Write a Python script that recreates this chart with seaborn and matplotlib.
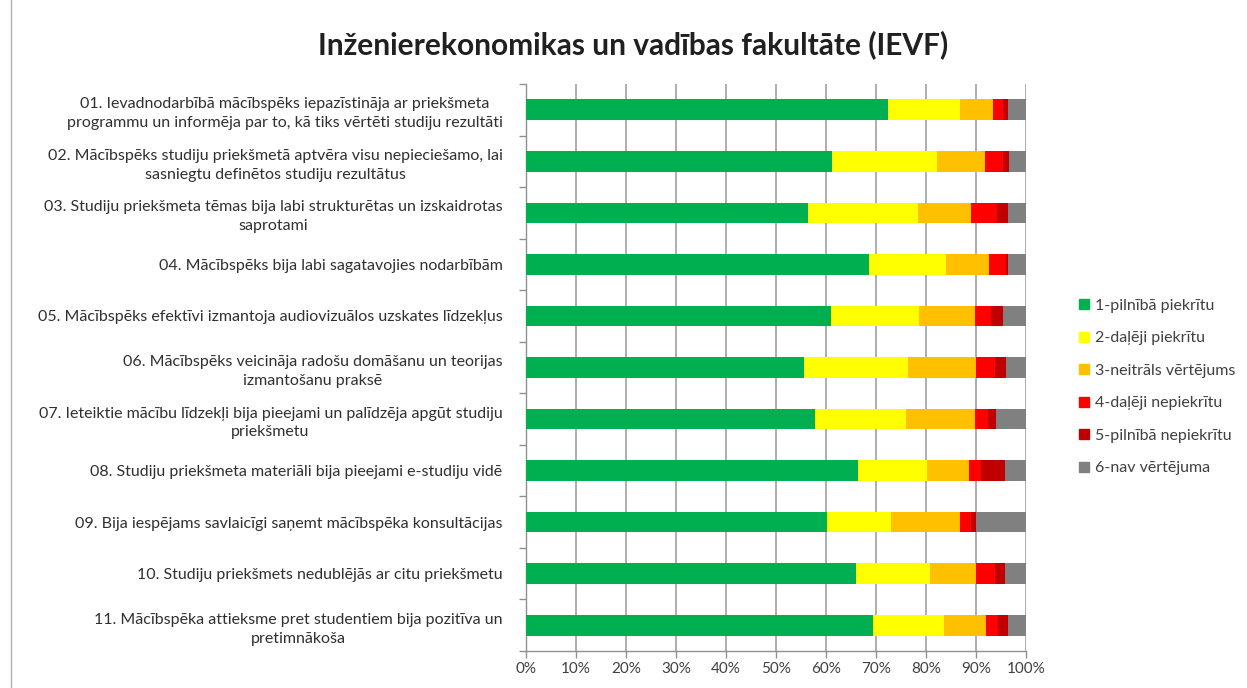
import numpy as np
import pandas as pd
import matplotlib
matplotlib.use("Agg")
import matplotlib.pyplot as plt
from matplotlib.lines import Line2D
import seaborn as sns

title = "Inženierekonomikas un vadības fakultāte (IEVF)"

categories = [
    "01. Ievadnodarbībā mācībspēks iepazīstināja ar priekšmeta\nprogrammu un informēja par to, kā tiks vērtēti studiju rezultāti",
    "02. Mācībspēks studiju priekšmetā aptvēra visu nepieciešamo, lai\nsasniegtu definētos studiju rezultātus",
    "03. Studiju priekšmeta tēmas bija labi strukturētas un izskaidrotas\nsaprotami",
    "04. Mācībspēks bija labi sagatavojies nodarbībām",
    "05. Mācībspēks efektīvi izmantoja audiovizuālos uzskates līdzekļus",
    "06. Mācībspēks veicināja radošu domāšanu un teorijas\nizmantošanu praksē",
    "07. Ieteiktie mācību līdzekļi bija pieejami un palīdzēja apgūt studiju\npriekšmetu",
    "08. Studiju priekšmeta materiāli bija pieejami e-studiju vidē",
    "09. Bija iespējams savlaicīgi saņemt mācībspēka konsultācijas",
    "10. Studiju priekšmets nedublējās ar citu priekšmetu",
    "11. Mācībspēka attieksme pret studentiem bija pozitīva un\npretimnākoša",
]

series_names = ["1-pilnībā piekrītu", "2-daļēji piekrītu", "3-neitrāls vērtējums",
                "4-daļēji nepiekrītu", "5-pilnībā nepiekrītu", "6-nav vērtējuma"]

s1_full_agree = [72.3, 61.2, 56.3, 68.5, 61.0, 55.5, 57.7, 66.3, 60.2, 66.0, 69.3]
s2_partly_agree = [14.5, 20.9, 22.0, 15.5, 17.5, 20.8, 18.2, 13.8, 12.8, 14.8, 14.2]
s3_neutral = [6.5, 9.6, 10.7, 8.5, 11.2, 13.6, 13.8, 8.4, 13.7, 9.2, 8.5]
s4_partly_disagree = [2.0, 3.7, 5.1, 3.5, 3.3, 3.8, 2.6, 2.4, 2.3, 3.7, 2.3]
s5_full_disagree = [1.1, 1.1, 2.3, 0.4, 2.3, 2.3, 1.7, 4.8, 1.0, 2.0, 2.1]
s6_no_rating = [3.6, 3.5, 3.6, 3.6, 4.7, 4.0, 6.0, 4.3, 10.0, 4.3, 3.6]

xticklabels = ["0%", "10%", "20%", "30%", "40%", "50%", "60%", "70%", "80%", "90%", "100%"]

colors = ["#00B050", "#FFFF00", "#FFC000", "#FF0000", "#C00000", "#808080"]

values = [s1_full_agree, s2_partly_agree, s3_neutral, s4_partly_disagree,
          s5_full_disagree, s6_no_rating]

rows = []
for i, cat in enumerate(categories):
    cum = 0.0
    for j, name in enumerate(series_names):
        cum += values[j][i]
        rows.append({"category": cat, "series": name, "value": values[j][i], "cum": cum})
df = pd.DataFrame(rows)
tot = df.groupby("category")["cum"].transform("max")
df["cum"] = df["cum"] / tot * 100

sns.set_theme(style="white")
plt.rcParams["font.family"] = ["Lato", "DejaVu Sans"]

fig = plt.figure(figsize=(12.47, 6.88), dpi=100)
ax = fig.add_axes([526 / 1247, 1 - 651 / 688, 500 / 1247, (651 - 84) / 688])

for j in range(len(series_names) - 1, -1, -1):
    sub = df[df["series"] == series_names[j]]
    sns.barplot(data=sub, x="cum", y="category", order=categories, orient="h",
                color=colors[j], saturation=1, width=0.4, ax=ax, zorder=3,
                edgecolor="none", linewidth=0)

ax.set_xlim(0, 100)
ax.set_ylim(len(categories) - 0.5, -0.5)
ax.set_xticks(np.arange(0, 101, 10))
ax.set_xticklabels(xticklabels, fontsize=11, color="#404040")
ax.set_xlabel("")
ax.set_ylabel("")
ax.set_yticks(range(len(categories)))
ax.set_yticklabels(categories, fontsize=11.5, color="#303030",
                   multialignment="center", linespacing=1.45)
ax.set_yticks(np.arange(-0.5, len(categories) + 0.5, 1), minor=True)
ax.tick_params(axis="y", which="major", length=0, pad=17)
ax.tick_params(axis="y", which="minor", length=5, color="#909090", width=1, direction="out", left=True)
ax.tick_params(axis="x", which="major", length=5, color="#909090", width=1, direction="out",
               bottom=True, pad=3)
ax.xaxis.grid(True, color="#a0a0a0", linewidth=1.2, zorder=0)
ax.set_axisbelow(True)
for s in ["top", "right"]:
    ax.spines[s].set_visible(False)
for s in ["left", "bottom"]:
    ax.spines[s].set_color("#909090")
    ax.spines[s].set_linewidth(1)

fig.text(633 / 1247, 1 - 45 / 688, title, ha="center", va="center",
         fontsize=21.5, fontweight="bold", color="#202020")

handles = [Line2D([0], [0], marker="s", linestyle="none", markersize=7.5,
                  markerfacecolor=c, markeredgecolor=c) for c in colors]
fig.legend(handles, series_names, loc="upper left",
           bbox_to_anchor=(1064 / 1247, 1 - 284 / 688), frameon=False,
           fontsize=11.5, labelspacing=1.15, handlelength=0.7, handletextpad=0.35,
           labelcolor="#404040")

fig.add_artist(Line2D([11 / 1247, 11 / 1247], [0, 1], color="#b0b0b0", linewidth=1))

fig.savefig("out.png", dpi=100)
